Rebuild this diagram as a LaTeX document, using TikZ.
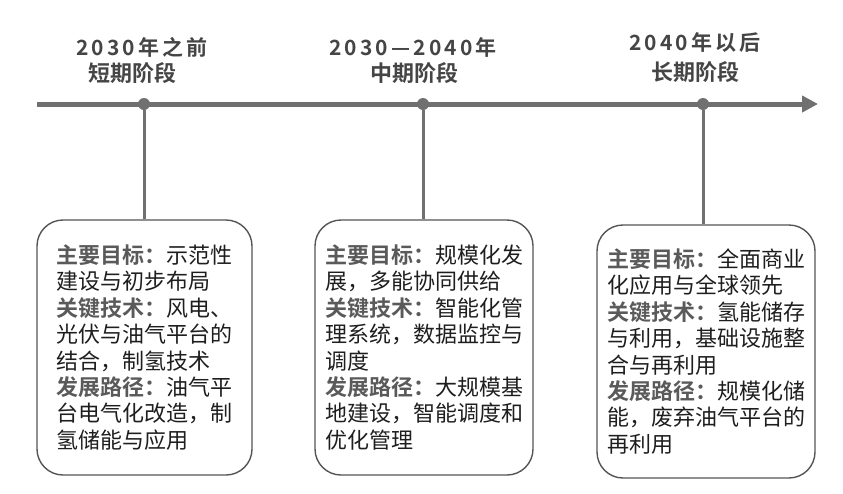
\documentclass[tikz,border=0pt]{standalone}
\usepackage{fontspec}
\setmainfont{Noto Sans CJK SC}[BoldFont={* Bold}]
\usetikzlibrary{arrows.meta}
\definecolor{axisgray}{HTML}{707070}
\definecolor{boxgray}{HTML}{555555}
\definecolor{headgray}{HTML}{454545}
\definecolor{bodytext}{HTML}{1E1E1E}
\definecolor{labelgray}{HTML}{5A5A5A}
\newcommand{\keyhead}[1]{{\bfseries\color{labelgray}#1}}
\begin{document}
\begin{tikzpicture}[x=1pt,y=-1pt,
  stagebox/.style={draw=boxgray, line width=1.4pt, rounded corners=26pt, minimum width=215pt, minimum height=255pt, align=left, inner sep=0pt, text=bodytext, font=\fontsize{22}{26.4}\selectfont},
  yearlbl/.style={text=headgray, font=\fontsize{21}{24}\selectfont\bfseries\addfontfeature{LetterSpace=15}},
  phaselbl/.style={text=headgray, font=\fontsize{22}{24}\selectfont\bfseries},
  dot/.style={circle, fill=axisgray, inner sep=0pt, minimum size=12pt}]
\useasboundingbox (0,0) rectangle (843,493);
\coordinate (axisstart) at (37,104);
\coordinate (axisend) at (818,104);
\draw[line width=5pt, axisgray, -{Triangle[length=16pt,width=16pt]}] (axisstart) -- (axisend); % time axis
\foreach \x/\n in {144/p1,423/p2,703/p3} % stage points
\node[dot] (\n) at (\x,104) {};
% headings
\node[yearlbl] (y1) at (142,47) {2030年之前};
\node[phaselbl] (s1) at (132,73) {短期阶段};
\node[yearlbl] (y2) at (413,47) {2030—2040年};
\node[phaselbl] (s2) at (414,73) {中期阶段};
\node[yearlbl] (y3) at (695,43) {2040年以后};
\node[phaselbl] (s3) at (695,72) {长期阶段};
% stage boxes
\node[stagebox] (b1) at (144.5,347.5) {\keyhead{主要目标：}示范性\\建设与初步布局\\\keyhead{关键技术：}风电、\\光伏与油气平台的\\结合，制氢技术\\\keyhead{发展路径：}油气平\\台电气化改造，制\\氢储能与应用};
\node[stagebox, minimum width=218pt] (b2) at (424,347.5) {\keyhead{主要目标：}规模化发\\展，多能协同供给\\\keyhead{关键技术：}智能化管\\理系统，数据监控与\\调度\\\keyhead{发展路径：}大规模基\\地建设，智能调度和\\优化管理};
\node[stagebox, minimum width=218pt, minimum height=253pt] (b3) at (706,351.5) {\keyhead{主要目标：}全面商业\\化应用与全球领先\\\keyhead{关键技术：}氢能储存\\与利用，基础设施整\\合与再利用\\\keyhead{发展路径：}规模化储\\能，废弃油气平台的\\再利用};
\foreach \n/\b in {p1/b1,p2/b2,p3/b3} % edit here for the drop lines
\draw[line width=3pt, axisgray] (\n) -- (\n |- \b.north);
\end{tikzpicture}
\end{document}
